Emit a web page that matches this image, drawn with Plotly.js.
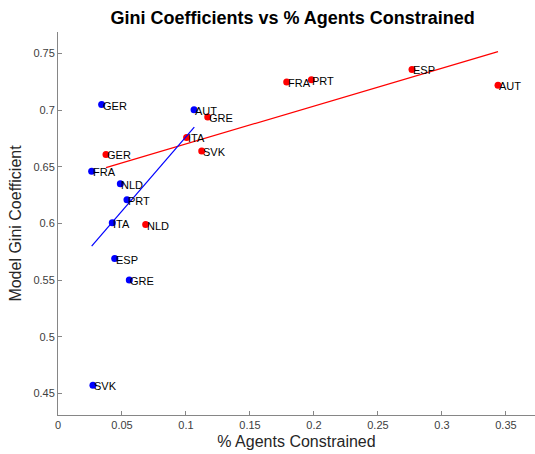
<!DOCTYPE html>
<html>
<head>
<meta charset="utf-8">
<script src="https://cdn.plot.ly/plotly-3.0.1.min.js"></script>
<style>html,body{margin:0;padding:0;background:#fff;}#chart{width:535px;height:454px;}</style>
</head>
<body>
<div id="chart"></div>
<script>
// Red series (data 1)
const redCountries = ["GER", "ITA", "SVK", "GRE", "NLD", "FRA", "PRT", "ESP", "AUT"];
const redX = [0.0375, 0.1005, 0.1123, 0.1170, 0.0685, 0.1787, 0.1980, 0.2766, 0.3438];
const redY = [0.661, 0.676, 0.664, 0.694, 0.599, 0.725, 0.727, 0.736, 0.722];

// Blue series (data 2)
const blueCountries = ["GER", "AUT", "FRA", "NLD", "PRT", "ITA", "ESP", "GRE", "SVK"];
const blueX = [0.0341, 0.1063, 0.0263, 0.0487, 0.0539, 0.0424, 0.0443, 0.0557, 0.0273];
const blueY = [0.705, 0.7005, 0.646, 0.635, 0.621, 0.6007, 0.569, 0.550, 0.457];

// Fitted lines (endpoints)
const redFitX = [0.0375, 0.3438];
const redFitY = [0.6493, 0.7518];
const blueFitX = [0.0263, 0.1065];
const blueFitY = [0.580, 0.685];

const xTicks = [0, 0.05, 0.1, 0.15, 0.2, 0.25, 0.3, 0.35];
const xTickText = ["0", "0.05", "0.1", "0.15", "0.2", "0.25", "0.3", "0.35"];
const yTicks = [0.45, 0.5, 0.55, 0.6, 0.65, 0.7, 0.75];
const yTickText = ["0.45", "0.5", "0.55", "0.6", "0.65", "0.7", "0.75"];

const FONT = "Liberation Sans, Arial, Helvetica, sans-serif";

const traces = [
  {x: redX, y: redY, mode: "markers", type: "scatter",
   marker: {color: "#ff0000", size: 7}, hoverinfo: "skip"},
  {x: blueX, y: blueY, mode: "markers", type: "scatter",
   marker: {color: "#0000ff", size: 7}, hoverinfo: "skip"},
  {x: redFitX, y: redFitY, mode: "lines", type: "scatter",
   line: {color: "#ff0000", width: 1.2}, hoverinfo: "skip"},
  {x: blueFitX, y: blueFitY, mode: "lines", type: "scatter",
   line: {color: "#0000ff", width: 1.2}, hoverinfo: "skip"}
];

const annotations = [];
function addLabels(names, xs, ys) {
  names.forEach((n, i) => {
    annotations.push({
      x: xs[i], y: ys[i], xref: "x", yref: "y", text: n,
      showarrow: false, xanchor: "left", yanchor: "middle",
      xshift: -1, yshift: -1,
      font: {family: FONT, size: 11, color: "#000"}
    });
  });
}
addLabels(redCountries, redX, redY);
addLabels(blueCountries, blueX, blueY);

const layout = {
  width: 535, height: 454,
  margin: {l: 58, r: 0, t: 32, b: 39, pad: 0},
  paper_bgcolor: "#fff", plot_bgcolor: "#fff",
  showlegend: false,
  title: {text: "<b>Gini Coefficients vs % Agents Constrained</b>",
          font: {family: FONT, size: 18, color: "#000"},
          x: 0.547, xanchor: "center", y: 0.96, yanchor: "middle"},
  xaxis: {
    range: [0, 0.3727], tickvals: xTicks, ticktext: xTickText,
    showgrid: false, zeroline: false, showline: true, linecolor: "#868686", linewidth: 1,
    ticks: "inside", ticklen: 4, tickcolor: "#868686",
    tickfont: {family: FONT, size: 11, color: "#404040"},
    title: {text: "% Agents Constrained", font: {family: FONT, size: 16, color: "#262626"}, standoff: 5},
    fixedrange: true
  },
  yaxis: {
    range: [0.4308, 0.7691], tickvals: yTicks, ticktext: yTickText,
    showgrid: false, zeroline: false, showline: true, linecolor: "#868686", linewidth: 1,
    ticks: "inside", ticklen: 4, tickcolor: "#868686",
    tickfont: {family: FONT, size: 11, color: "#404040"},
    title: {text: "Model Gini Coefficient", font: {family: FONT, size: 16, color: "#262626"}, standoff: 7},
    fixedrange: true
  },
  annotations: annotations
};

Plotly.newPlot("chart", traces, layout, {staticPlot: true, displayModeBar: false});
</script>
</body>
</html>
